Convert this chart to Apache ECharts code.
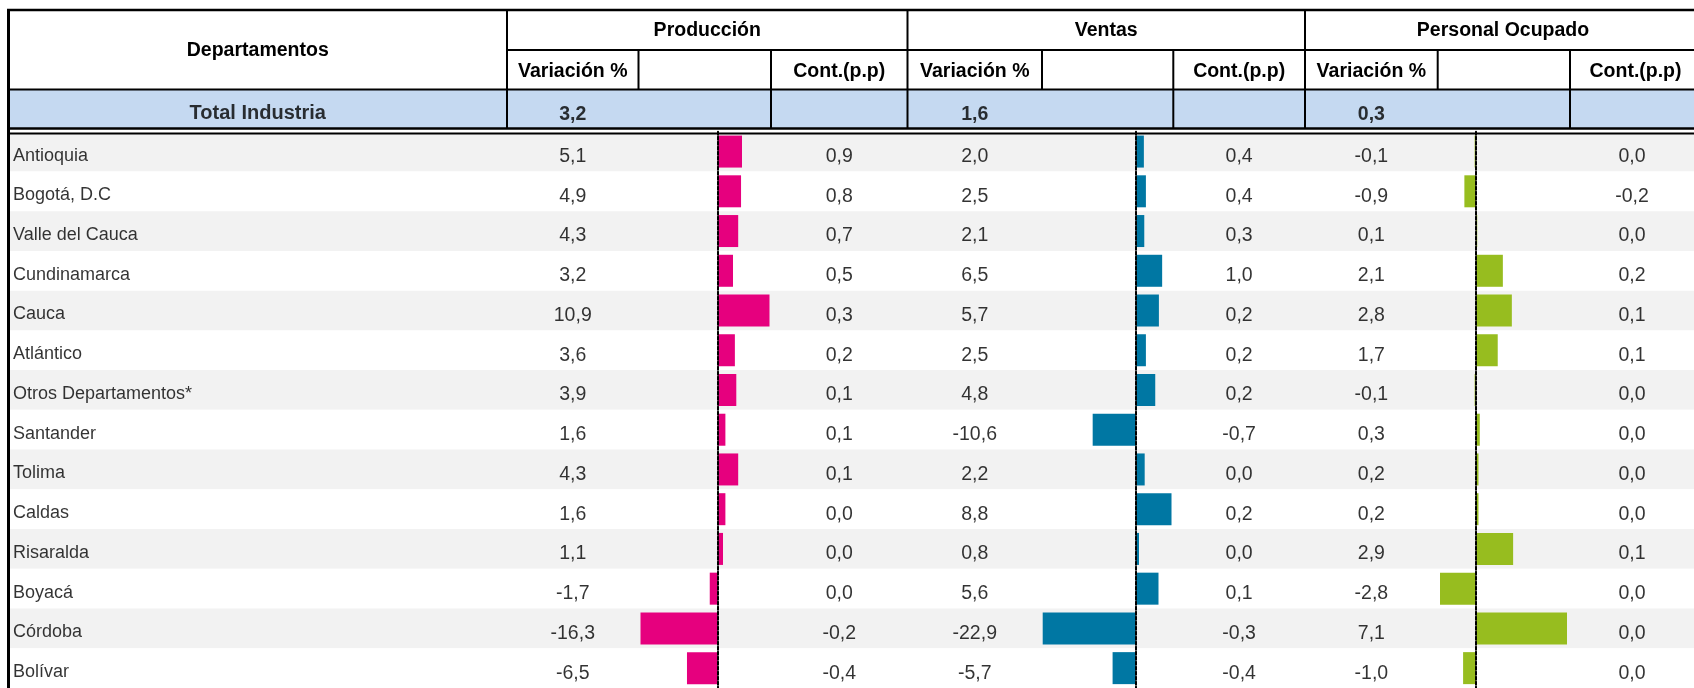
<!DOCTYPE html>
<html><head><meta charset="utf-8">
<script src="https://cdn.jsdelivr.net/npm/echarts@6/dist/echarts.min.js"></script>
<style>html,body{margin:0;padding:0;background:#fff}#c{width:1694px;height:688px}</style>
</head><body><div id="c"></div>
<script>
// ---------------- DATA ----------------
const departamentos = ["Antioquia","Bogotá, D.C","Valle del Cauca","Cundinamarca","Cauca","Atlántico","Otros Departamentos*","Santander","Tolima","Caldas","Risaralda","Boyacá","Córdoba","Bolívar"];
const produccionVar  = [5.1, 4.9, 4.3, 3.2, 10.9, 3.6, 3.9, 1.6, 4.3, 1.6, 1.1, -1.7, -16.3, -6.5];
const produccionCont = [0.9, 0.8, 0.7, 0.5, 0.3, 0.2, 0.1, 0.1, 0.1, 0.0, 0.0, 0.0, -0.2, -0.4];
const ventasVar      = [2.0, 2.5, 2.1, 6.5, 5.7, 2.5, 4.8, -10.6, 2.2, 8.8, 0.8, 5.6, -22.9, -5.7];
const ventasCont     = [0.4, 0.4, 0.3, 1.0, 0.2, 0.2, 0.2, -0.7, 0.0, 0.2, 0.0, 0.1, -0.3, -0.4];
const personalVar    = [-0.1, -0.9, 0.1, 2.1, 2.8, 1.7, -0.1, 0.3, 0.2, 0.2, 2.9, -2.8, 7.1, -1.0];
const personalCont   = [0.0, -0.2, 0.0, 0.2, 0.1, 0.1, 0.0, 0.0, 0.0, 0.0, 0.1, 0.0, 0.0, 0.0];
const totalEtiqueta  = "Total Industria";
const totales        = [3.2, 1.6, 0.3];
const grupos         = ["Producción", "Ventas", "Personal Ocupado"];
const subEncabezados = ["Variación %", "Cont.(p.p)"];
const encabezadoDept = "Departamentos";

// ---------------- LAYOUT ----------------
const FONT = "'Liberation Sans', Arial, sans-serif";
const ROW_TOP = 131.7, ROW_H = 40, N = departamentos.length, H = ROW_H * N;
const TOP = 10, SUB = 50, TOT_T = 89.5, TOT_B = 128.5, BODY = 133.5, W = 1701;
const X_LEFT = 8.5, X_DEPT = 507;
// per section: [start, var|bar, bar|cont, end]
const SEC = [[507, 638.5, 771, 907.5], [907.5, 1042, 1173.3, 1305], [1305, 1437.7, 1570, 1701]];
const BAR_X = [[640.5, 769.5], [1042.7, 1171.5], [1440, 1567]];
const BAR_COL = ['#e6007e', '#0077a3', '#97bd1f'];
const varData = [produccionVar, ventasVar, personalVar];
const contData = [produccionCont, ventasCont, personalCont];

const fmt = v => v.toFixed(1).replace('.', ',');

const grids = [], xAxes = [], yAxes = [], series = [];
function addGrid(x0, x1, top, h, cats, xmin, xmax, yOpts) {
  const k = grids.length;
  grids.push({ left: x0, top: top, width: x1 - x0, height: h, containLabel: false });
  xAxes.push({ type: 'value', gridIndex: k, min: xmin, max: xmax, show: false, splitLine: { show: false } });
  yAxes.push(Object.assign({ type: 'category', gridIndex: k, data: cats, inverse: true, show: false }, yOpts || {}));
  return k;
}
function textSeries(k, xPos, vals, bold, dy, size, position, dist) {
  series.push({
    type: 'scatter', xAxisIndex: k, yAxisIndex: k, silent: true,
    symbolSize: 1, itemStyle: { color: 'rgba(0,0,0,0)' },
    data: vals.map((v, i) => [xPos, i, v]),
    label: {
      show: true, position: position || 'inside', distance: dist || 0, offset: [0, dy],
      formatter: p => typeof p.value[2] === 'number' ? fmt(p.value[2]) : p.value[2],
      color: '#000', fontSize: size || 19.5, fontFamily: FONT, fontWeight: bold ? 'bold' : 'normal'
    }
  });
}
function textCol(x0, x1, top, h, cats, vals, bold, dy, size) {
  const k = addGrid(x0, x1, top, h, cats, -1, 1);
  textSeries(k, 0, vals, bold, dy, size);
}

// background rows + department names
const kBg = addGrid(X_LEFT, W, ROW_TOP, H, departamentos, 0, 1, {
  show: true, axisLine: { show: false }, axisTick: { show: false }, splitLine: { show: false },
  axisLabel: { show: false },
  splitArea: { show: true, areaStyle: { color: ['#f2f2f2', '#ffffff'] } }
});
textSeries(kBg, 0, departamentos, false, 4, 18, 'right', 4);

// bar panels
for (let s = 0; s < 3; s++) {
  const vals = varData[s];
  const k = addGrid(BAR_X[s][0], BAR_X[s][1], ROW_TOP, H, departamentos, Math.min(...vals), Math.max(...vals), {
    show: true, z: 5,
    axisLine: { show: true, onZero: true, lineStyle: { color: '#000', width: 2, type: [3, 2] } },
    axisTick: { show: false }, axisLabel: { show: false }, splitLine: { show: false }
  });
  series.push({ type: 'bar', xAxisIndex: k, yAxisIndex: k, data: vals, barWidth: 32, silent: true, itemStyle: { color: BAR_COL[s] } });
}

// value columns
for (let s = 0; s < 3; s++) {
  textCol(SEC[s][0], SEC[s][1], ROW_TOP, H, departamentos, varData[s], false, 5);
  textCol(SEC[s][2], SEC[s][3], ROW_TOP, H, departamentos, contData[s], false, 5);
  textCol(SEC[s][0], SEC[s][1], TOT_T, TOT_B - TOT_T, [totalEtiqueta], [totales[s]], true, 6);
}
textCol(X_LEFT, X_DEPT, TOT_T, TOT_B - TOT_T, [totalEtiqueta], [totalEtiqueta], true, 4.5, 20);

// ---------------- HEADER GRAPHICS ----------------
const g = [];
g.push({ type: 'rect', shape: { x: X_LEFT, y: TOT_T, width: W - X_LEFT, height: TOT_B - TOT_T }, style: { fill: '#c5d9f1' }, z: 0, silent: true });
g.push({ type: 'rect', shape: { x: X_LEFT, y: TOT_B, width: W - X_LEFT, height: BODY - TOT_B }, style: { fill: '#ffffff' }, z: 1, silent: true });
function line(x1, y1, x2, y2, w) {
  g.push({ type: 'line', shape: { x1, y1, x2, y2 }, style: { stroke: '#000', lineWidth: w || 2 }, z: 20, silent: true });
}
function txt(t, x, y, size) {
  g.push({ type: 'text', x, y, z: 21, silent: true, style: { text: t, x: 0, y: 0, align: 'center', verticalAlign: 'middle', fill: '#000', fontSize: size || 19.5, fontWeight: 'bold', fontFamily: FONT } });
}
line(X_LEFT - 1.5, TOP, W, TOP, 2.5);
line(X_LEFT, TOP, X_LEFT, 688, 3);
line(X_DEPT, SUB, W, SUB, 2);
line(X_LEFT, TOT_T, W, TOT_T, 2);
line(X_LEFT, TOT_B, W, TOT_B, 2.5);
line(X_LEFT, BODY, W, BODY, 2);
line(X_DEPT, TOP, X_DEPT, TOT_B, 2);
for (let s = 0; s < 3; s++) {
  line(SEC[s][3], TOP, SEC[s][3], TOT_B, 2);
  line(SEC[s][1], SUB, SEC[s][1], TOT_T, 2);
  line(SEC[s][2], SUB, SEC[s][2], TOT_B, 2);
  txt(grupos[s], (SEC[s][0] + SEC[s][3]) / 2, (TOP + SUB) / 2 + 0.5);
  txt(subEncabezados[0], (SEC[s][0] + SEC[s][1]) / 2, (SUB + TOT_T) / 2 + 2);
  txt(subEncabezados[1], (SEC[s][2] + SEC[s][3]) / 2, (SUB + TOT_T) / 2 + 2);
}
txt(encabezadoDept, (X_LEFT + X_DEPT) / 2, SUB + 1);

const chart = echarts.init(document.getElementById('c'), null, { renderer: 'canvas' });
chart.setOption({
  animation: false,
  backgroundColor: '#ffffff',
  grid: grids, xAxis: xAxes, yAxis: yAxes, series: series,
  graphic: { elements: g }
});
</script></body></html>
